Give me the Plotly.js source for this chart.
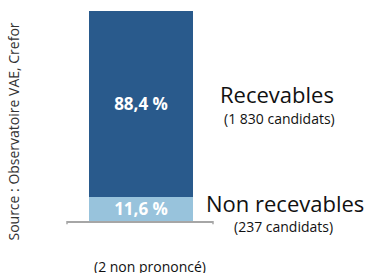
<!DOCTYPE html>
<html>
<head>
<meta charset="utf-8">
<script src="https://cdn.plot.ly/plotly-3.0.1.min.js"></script>
<style>html,body{margin:0;padding:0;background:#fff;}#chart{width:371px;height:273px;}</style>
</head>
<body>
<div id="chart"></div>
<script>
const categories = ["Candidats"];
const nonRecevables = [11.6];
const recevables = [88.4];
const seriesNames = ["Non recevables", "Recevables"];
const seriesCounts = ["(237 candidats)", "(1 830 candidats)"];
const noteText = "(2 non prononcé)";
const sourceText = "Source : Observatoire VAE, Crefor";

const fmt = v => v.map(x => x.toFixed(1).replace('.', ',') + ' %');
const labelFont = "'Open Sans', sans-serif";

const traces = [
  {type:'bar', x:[0], y:nonRecevables, width:1, name:seriesNames[0],
   marker:{color:'#98c3dc'}, text:fmt(nonRecevables), textposition:'inside',
   insidetextanchor:'middle', constraintext:'none',
   textfont:{color:'#ffffff', size:17, family:labelFont, weight:700}, hoverinfo:'none'},
  {type:'bar', x:[0], y:recevables, width:1, name:seriesNames[1],
   marker:{color:'#295a8c'}, text:fmt(recevables), textposition:'inside',
   insidetextanchor:'middle', constraintext:'none',
   textfont:{color:'#ffffff', size:17, family:labelFont, weight:700}, hoverinfo:'none'}
];

const layout = {
  width:371, height:273, barmode:'stack', showlegend:false,
  margin:{l:67, r:158, t:11, b:52, pad:0},
  paper_bgcolor:'#ffffff', plot_bgcolor:'#ffffff',
  xaxis:{range:[-0.7115, 0.6923], showticklabels:false, showgrid:false, zeroline:false,
         showline:true, linecolor:'#a6a6a6', linewidth:1.5, ticks:'', fixedrange:true},
  yaxis:{range:[0,100], visible:false, fixedrange:true},
  shapes:[
    {type:'line', xref:'paper', yref:'paper', x0:0, x1:0, y0:0, y1:-0.016, line:{color:'#a6a6a6', width:1.5}},
    {type:'line', xref:'paper', yref:'paper', x0:1, x1:1, y0:0, y1:-0.016, line:{color:'#a6a6a6', width:1.5}}
  ],
  annotations:[
    {text:seriesNames[1], xref:'paper', yref:'paper', x:1.438, y:0.603, xanchor:'center', yanchor:'middle', showarrow:false, font:{size:22, family:labelFont, color:'#111111'}},
    {text:seriesCounts[1], xref:'paper', yref:'paper', x:1.455, y:0.488, xanchor:'center', yanchor:'middle', showarrow:false, font:{size:14, family:labelFont, color:'#111111'}},
    {text:seriesNames[0], xref:'paper', yref:'paper', x:1.493, y:0.086, xanchor:'center', yanchor:'middle', showarrow:false, font:{size:22, family:labelFont, color:'#111111'}},
    {text:seriesCounts[0], xref:'paper', yref:'paper', x:1.483, y:-0.024, xanchor:'center', yanchor:'middle', showarrow:false, font:{size:14, family:labelFont, color:'#111111'}},
    {text:noteText, xref:'paper', yref:'paper', x:0.568, y:-0.215, xanchor:'center', yanchor:'middle', showarrow:false, font:{size:14, family:labelFont, color:'#111111'}},
    {text:sourceText, xref:'paper', yref:'paper', x:-0.363, y:0.426, xanchor:'center', yanchor:'middle', textangle:-90, showarrow:false, font:{size:14, family:labelFont, color:'#333333'}}
  ]
};

Plotly.newPlot('chart', traces, layout, {displayModeBar:false, staticPlot:true});
</script>
</body>
</html>
